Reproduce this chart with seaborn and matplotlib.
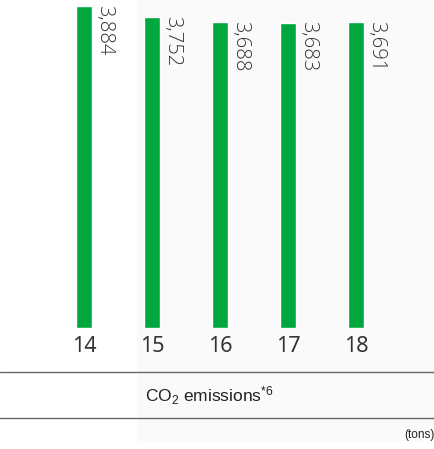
import matplotlib
matplotlib.use("Agg")
import matplotlib.pyplot as plt
import seaborn as sns
from matplotlib.patches import Rectangle
from matplotlib.lines import Line2D

# data
years = ["14", "15", "16", "17", "18"]
emissions = [3884, 3752, 3688, 3683, 3691]
value_labels = ["3,884", "3,752", "3,688", "3,683", "3,691"]
caption = "CO$\\mathregular{_2}$ emissions$\\mathregular{^{*6}}$"
unit = "(tons)"

GREEN = "#00a63e"
TEXT = "#333333"
BAR_W = 0.235


def main():
    sns.set_theme(style="white")
    plt.rcParams["font.family"] = ["Noto Sans", "DejaVu Sans"]

    W, H = 435, 449
    fig = plt.figure(figsize=(W / 100, H / 100), dpi=100)
    fig.patch.set_facecolor("white")
    # faint grey panel behind the right part
    fig.patches.append(Rectangle((137 / W, 8 / H), 1, 1, transform=fig.transFigure,
                                 facecolor="#fafafa", edgecolor="none", zorder=-5))

    ax = fig.add_axes([0, 121 / H, 1, 328 / H])
    ax.set_facecolor("none")
    sns.barplot(x=years, y=emissions, color=GREEN, saturation=1, width=BAR_W, ax=ax)

    ax.set_xlim(-84 / 68, (W - 84) / 68)
    ax.set_ylim(0, 3956)
    for s in ax.spines.values():
        s.set_visible(False)
    ax.set_yticks([])
    ax.set_xlabel("")
    ax.set_ylabel("")
    ax.tick_params(axis="x", length=0, pad=6, labelsize=15.5, labelcolor=TEXT)

    # value labels, rotated, next to the top of each bar
    for i, (v, lab) in enumerate(zip(emissions, value_labels)):
        ax.annotate(lab, xy=(i + BAR_W / 2, v), xytext=(1.5, 1), textcoords="offset points",
                    rotation=270, ha="left", va="top", fontsize=14.5, color="#333333",
                    family=["Open Sans", "Noto Sans"], fontweight="light")

    # separators and caption
    for ypx in (372, 418):
        fig.add_artist(Line2D([0, 1], [1 - ypx / H] * 2, transform=fig.transFigure,
                              color="#666666", lw=1.0))
    narrow = ["Liberation Sans Narrow", "Liberation Sans", "DejaVu Sans"]
    fig.text(145 / W, 1 - 396 / H, caption, ha="left", va="center", fontsize=12.5,
             color="#222222", family=narrow)
    fig.text(1.0, 1 - 435 / H, unit, ha="right", va="center", fontsize=8.5,
             color="#222222", family=narrow)

    fig.savefig("out.png", dpi=100)
    plt.close(fig)


if __name__ == "__main__":
    main()
